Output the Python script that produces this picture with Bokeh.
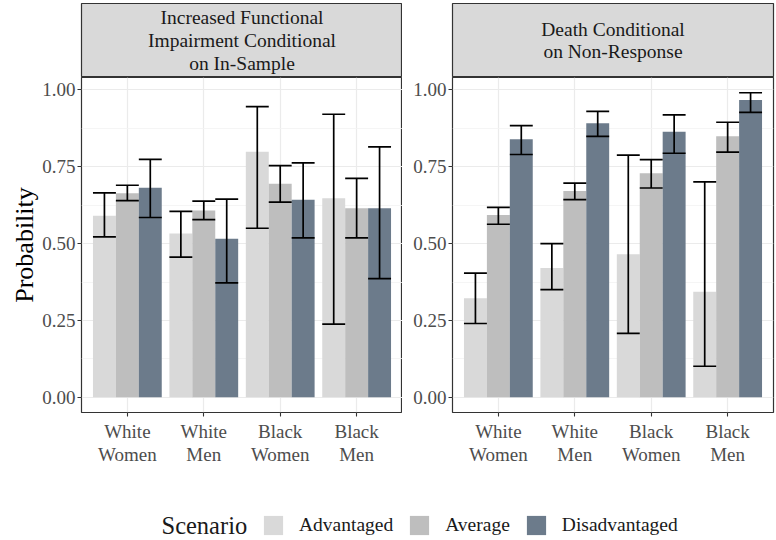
import numpy as np
from bokeh.plotting import figure
from bokeh.models import Range1d, FixedTicker, PrintfTickFormatter, Legend, LegendItem, Label
from bokeh.layouts import column, row
from bokeh.core.properties import value
from bokeh.embed import file_html
from bokeh.resources import INLINE

# ---------------- data ----------------
groups = ["White\nWomen", "White\nMen", "Black\nWomen", "Black\nMen"]
scenarios = ["Advantaged", "Average", "Disadvantaged"]
panel_titles = ["Increased Functional\nImpairment Conditional\non In-Sample",
                "Death Conditional\non Non-Response"]
legend_title = "Scenario"
y_title = "Probability"

# Panel 1: increased functional impairment conditional on in-sample
imp_adv = [0.591, 0.533, 0.799, 0.648]
imp_adv_lo = [0.522, 0.456, 0.550, 0.238]
imp_adv_hi = [0.665, 0.605, 0.946, 0.921]
imp_avg = [0.664, 0.608, 0.695, 0.615]
imp_avg_lo = [0.640, 0.578, 0.635, 0.519]
imp_avg_hi = [0.690, 0.638, 0.754, 0.712]
imp_dis = [0.682, 0.516, 0.643, 0.615]
imp_dis_lo = [0.585, 0.372, 0.519, 0.386]
imp_dis_hi = [0.774, 0.645, 0.763, 0.815]

# Panel 2: death conditional on non-response
death_adv = [0.322, 0.421, 0.465, 0.343]
death_adv_lo = [0.240, 0.350, 0.208, 0.101]
death_adv_hi = [0.404, 0.500, 0.788, 0.701]
death_avg = [0.593, 0.671, 0.729, 0.849]
death_avg_lo = [0.563, 0.643, 0.681, 0.798]
death_avg_hi = [0.618, 0.697, 0.773, 0.895]
death_dis = [0.840, 0.892, 0.864, 0.967]
death_dis_lo = [0.790, 0.849, 0.794, 0.927]
death_dis_hi = [0.884, 0.930, 0.919, 0.991]

y_ticks = [0.0, 0.25, 0.50, 0.75, 1.00]
y_minor = [0.125, 0.375, 0.625, 0.875]

# ---------------- style ----------------
colors = ["#D9D9D9", "#BEBEBE", "#6C7B8B"]
FONT = "Liberation Serif"
W = 321        # frame width of each panel
TOP = 3
SH = 74        # strip height
FH = 335       # panel frame height
BB = 56        # room for x tick labels
LB1, RB1 = 81, 0   # larger than the y axis needs, so strip and panel frames line up
LB2, RB2 = 50, 2
TOTAL_H = 540

all_hi = imp_adv_hi + imp_avg_hi + imp_dis_hi + death_adv_hi + death_avg_hi + death_dis_hi
ymax = max(all_hi)
ymin = 0.0
pad = 0.05 * (ymax - ymin)
YLO, YHI = ymin - pad, ymax + pad
n = len(groups)
XLO, XHI = 0.4, n + 0.6


def make_strip(title, lb, rb):
    s = figure(frame_width=W, frame_height=SH, x_range=Range1d(0, 1), y_range=Range1d(0, 1),
               x_axis_location=None, y_axis_location=None, output_backend="svg",
               toolbar_location=None, min_border_left=lb, min_border_right=rb,
               min_border_top=TOP, min_border_bottom=0)
    s.grid.visible = False
    s.background_fill_color = "#D9D9D9"
    s.border_fill_color = "white"
    s.outline_line_color = "#333333"
    s.outline_line_width = 1.2
    s.text(x=[0.5], y=[0.5], text=[title], text_align="center", text_baseline="middle",
           text_font=value(FONT), text_font_size="19.5px", text_color="#1A1A1A",
           text_line_height=1.08)
    return s


def make_panel(means, los, his, lb, rb, ylabel):
    p = figure(frame_width=W, frame_height=FH, x_range=Range1d(XLO, XHI),
               y_range=Range1d(YLO, YHI), output_backend="svg", toolbar_location=None,
               min_border_left=lb, min_border_right=rb, min_border_top=0,
               min_border_bottom=BB)
    xs = np.arange(1, n + 1)
    k = len(scenarios)
    dw = 0.9 / k
    pos = []
    for i, (m, c) in enumerate(zip(means, colors)):
        x = xs + (i - (k - 1) / 2) * dw
        pos.append(x)
        p.vbar(x=x, top=m, bottom=0, width=dw, fill_color=c, line_color=None)
    for x, lo, hi in zip(pos, los, his):
        p.segment(x0=x, y0=lo, x1=x, y1=hi, line_color="black", line_width=1.7)
        p.segment(x0=x - dw / 2, y0=lo, x1=x + dw / 2, y1=lo, line_color="black", line_width=1.7)
        p.segment(x0=x - dw / 2, y0=hi, x1=x + dw / 2, y1=hi, line_color="black", line_width=1.7)

    p.outline_line_color = "#333333"
    p.outline_line_width = 1.2

    ya = p.yaxis[0]
    ya.ticker = FixedTicker(ticks=y_ticks, minor_ticks=y_minor)
    ya.formatter = PrintfTickFormatter(format="%.2f")
    xa = p.xaxis[0]
    xa.ticker = FixedTicker(ticks=list(xs))
    xa.major_label_overrides = {int(i): g for i, g in zip(xs, groups)}
    for ax in (xa, ya):
        ax.axis_line_color = None
        ax.major_tick_line_color = "#333333"
        ax.major_tick_line_width = 1.1
        ax.major_tick_out = 4
        ax.major_tick_in = 0
        ax.minor_tick_line_color = None
        ax.major_label_text_font = FONT
        ax.major_label_text_font_size = "19px"
        ax.major_label_text_color = "#4D4D4D"
    ya.major_label_standoff = 2
    xa.major_label_text_line_height = 1.12
    xa.major_label_standoff = 4
    if ylabel:
        ya.axis_label = ylabel
        ya.axis_label_text_font = FONT
        ya.axis_label_text_font_size = "26px"
        ya.axis_label_text_font_style = "normal"
        ya.axis_label_text_color = "black"
        ya.axis_label_standoff = 0

    p.xgrid.ticker = FixedTicker(ticks=list(xs))
    p.xgrid.grid_line_color = "#EBEBEB"
    p.xgrid.grid_line_width = 1.2
    p.ygrid.grid_line_color = "#EBEBEB"
    p.ygrid.grid_line_width = 1.2
    p.ygrid.minor_grid_line_color = "#F2F2F2"
    p.ygrid.minor_grid_line_width = 0.8
    return p


s1 = make_strip(panel_titles[0], LB1, RB1)
s2 = make_strip(panel_titles[1], LB2, RB2)
p1 = make_panel([imp_adv, imp_avg, imp_dis], [imp_adv_lo, imp_avg_lo, imp_dis_lo],
                [imp_adv_hi, imp_avg_hi, imp_dis_hi], LB1, RB1, y_title)
p2 = make_panel([death_adv, death_avg, death_dis], [death_adv_lo, death_avg_lo, death_dis_lo],
                [death_adv_hi, death_avg_hi, death_dis_hi], LB2, RB2, None)

# legend strip (proxy renderers of zero height, outside the visible y-range)
LH = TOTAL_H - (TOP + SH) - (FH + BB)
lg = figure(width=LB1 + W + RB1 + LB2 + W + RB2, height=LH, x_range=Range1d(0, 1),
            y_range=Range1d(1, 2), x_axis_location=None, y_axis_location=None,
            output_backend="svg", toolbar_location=None, min_border=0)
lg.grid.visible = False
lg.outline_line_color = None
items = []
for sname, c in zip(scenarios, colors):
    r = lg.vbar(x=[0], top=[0], bottom=[0], width=0.1, fill_color=c, line_color=None)
    items.append(LegendItem(label=sname, renderers=[r]))
legend = Legend(items=items, orientation="horizontal", location=(261, 3),
                glyph_width=24, glyph_height=24, label_standoff=14, spacing=14,
                padding=0, margin=0, border_line_color=None, background_fill_alpha=0,
                label_text_font=FONT, label_text_font_size="19.5px",
                label_text_color="#1A1A1A", label_height=24)
lg.add_layout(legend)
lg.add_layout(Label(x=161, y=15, x_units="screen", y_units="screen", text=legend_title,
                    text_font=FONT, text_font_size="24.5px", text_baseline="middle",
                    text_color="#1A1A1A"))

layout = column(row(s1, s2), row(p1, p2), lg)
open("out.html", "w").write(file_html(layout, INLINE))
